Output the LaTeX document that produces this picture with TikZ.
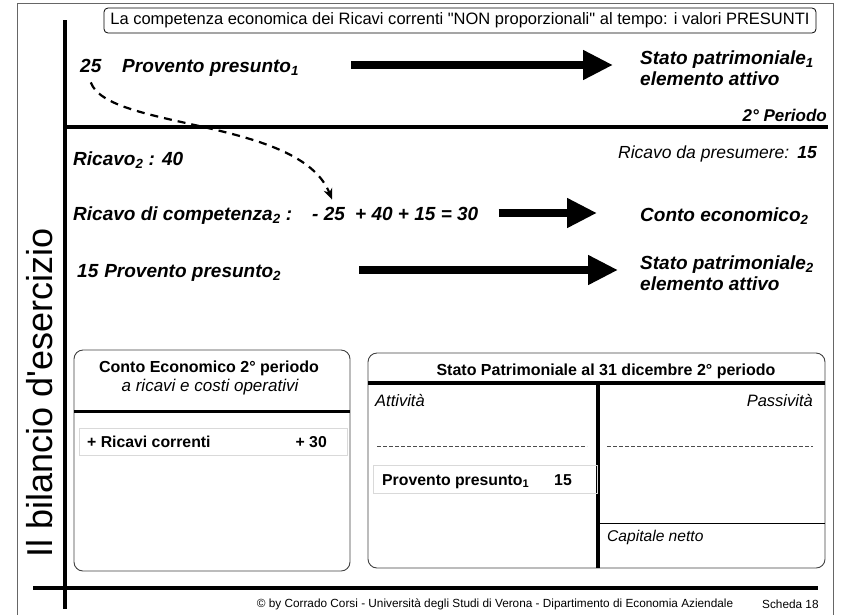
\documentclass[tikz,border=0pt]{standalone}
\usepackage{fontspec}
\setmainfont{Liberation Sans}[Ligatures=TeXOff]
\usetikzlibrary{arrows.meta}
\newcommand{\ssub}[1]{\textsubscript{#1}}
\begin{document}
\begin{tikzpicture}[x=1pt,y=-1pt,
  nbi/.style={font=\bfseries\itshape\fontsize{19}{21}\selectfont, inner sep=0pt},
  nbil/.style={nbi, align=left, font=\bfseries\itshape\fontsize{19}{20.5}\selectfont},
  bigarrow/.style={line width=8pt, -{Triangle[length=30pt,width=28pt]}},
  thickline/.style={line width=3.8pt},
  panel/.style={draw=black!75, line width=0.9pt, rounded corners=9pt},
  itembox/.style={draw=black!15, line width=0.8pt},
  btitle/.style={font=\bfseries\fontsize{16}{18}\selectfont, inner sep=0pt},
  ital/.style={font=\itshape\fontsize{16.5}{18}\selectfont, inner sep=0pt},
  bold/.style={font=\bfseries\fontsize{15.8}{18}\selectfont, inner sep=0pt},
  foot/.style={font=\fontsize{11.8}{13}\selectfont, inner sep=0pt},
  dashcurve/.style={line width=2.2pt, dash pattern=on 8pt off 6pt, -{Stealth[length=11pt,width=9pt,open]}},
  sepdash/.style={draw=black!70, line width=0.6pt, dash pattern=on 3.5pt off 2.5pt}
]
\useasboundingbox (0,0) rectangle (843,614);
% outer frame
\draw[black!60, line width=1pt] (17,3.5) -- (833,3.5) -- (833,620) (17,3.5) -- (17,620);
% main rules
\draw[thickline] (65,20) -- (65,609);
\draw[thickline] (65,127) -- (828,127);
\draw[thickline] (33,588) -- (818,588);
% vertical title
\node[rotate=90, anchor=base, inner sep=0pt, font=\fontsize{36}{40}\selectfont] (vt) at (52,393) {Il bilancio d'esercizio};
% heading box
\node[draw, rounded corners=4pt, line width=0.8pt, minimum width=712pt, minimum height=25pt, inner sep=0pt,
  font=\fontsize{16.5}{18}\selectfont] (head) at (460,20.5)
  {La competenza economica dei Ricavi correnti "NON proporzionali" al tempo: i valori PRESUNTI};
% row 1
\node[nbi, anchor=base west] (n25) at (80,72) {25};
\node[nbi, anchor=base west] (p1) at (122,72) {Provento presunto\ssub{1}};
\node[nbil, anchor=west] (s1) at (640,68) {Stato patrimoniale\ssub{1}\\elemento attivo};
\draw[bigarrow] ([xshift=52pt]p1.east |- 0,65) -- ([xshift=-27pt]s1.west |- 0,65);
\node[nbi, anchor=base east, font=\bfseries\itshape\fontsize{17}{19}\selectfont] (per) at (827,121) {2° Periodo};
% row 2
\node[nbi, anchor=base west] (ric2) at (73,165) {Ricavo\ssub{2} : 40};
\node[anchor=base east, inner sep=0pt, font=\itshape\fontsize{17.5}{20}\selectfont] (rp) at (817,158)
  {Ricavo da presumere:\hspace{8pt}{\bfseries 15}};
\node[nbi, anchor=base west] (rc) at (73,220) {Ricavo di competenza\ssub{2} :};
\node[nbi, anchor=base west] (eq) at (312,220) {- 25\hspace{5pt} + 40 + 15 = 30};
\node[nbi, anchor=base west] (ce) at (640,221) {Conto economico\ssub{2}};
\draw[bigarrow] ([xshift=20pt]eq.east |- 0,213) -- ([xshift=-43pt]ce.west |- 0,213);
% row 3
\node[nbi, anchor=base west] (p2) at (77,277) {15\hspace{6pt}Provento presunto\ssub{2}};
\node[nbil, anchor=west] (s2) at (640,273) {Stato patrimoniale\ssub{2}\\elemento attivo};
\draw[bigarrow] ([xshift=78pt]p2.east |- 0,270) -- ([xshift=-22pt]s2.west |- 0,270);
% dashed curve
\coordinate (cend) at ([xshift=20pt,yshift=7pt]eq.north west);
\draw[dashcurve] ([yshift=-10pt]n25.south) .. controls (108,130) and (300,118) .. (cend);
% left panel
\draw[panel] (74,350) rectangle (350,571);
\draw[thickline] (74,411.5) -- (350,411.5);
\node[btitle] (cet) at (209,368.5) {Conto Economico 2° periodo};
\node[ital, font=\itshape\fontsize{17}{19}\selectfont] (ces) at (210,387) {a ricavi e costi operativi};
\draw[itembox] (79,428) rectangle (347,455);
\node[bold, anchor=base west] (rcorr) at (87,447) {+ Ricavi correnti};
\node[bold, anchor=base east] (r30) at (327,447) {+ 30};
% right panel
\draw[panel] (368,353) rectangle (825,568);
\node[btitle] (spt) at (606,371) {Stato Patrimoniale al 31 dicembre 2° periodo};
\draw[thickline] (368,383) -- (825,383);
\draw[thickline] (598,383) -- (598,568);
\node[ital, anchor=west] (att) at (375,400) {Attività};
\node[ital, anchor=east] (pas) at (813,400) {Passività};
\draw[sepdash] (377,446) -- (587,446);
\draw[sepdash] (607,446) -- (813,446);
\draw[itembox] (373,465) rectangle (597,493);
\node[bold, anchor=base west] (pp1) at (382,485) {Provento presunto\ssub{1}};
\node[bold, anchor=base] (v15) at (563,485) {15};
\draw[line width=0.9pt] (598,523) -- (825,523);
\node[ital, anchor=west, font=\itshape\fontsize{15.6}{17}\selectfont] (cn) at (607,537) {Capitale netto};
% footer
\node[foot] (f1) at (495,604) {© by Corrado Corsi - Università degli Studi di Verona - Dipartimento di Economia Aziendale};
\node[foot, anchor=west] (f2) at (762,604) {Scheda 18};
\end{tikzpicture}
\end{document}
